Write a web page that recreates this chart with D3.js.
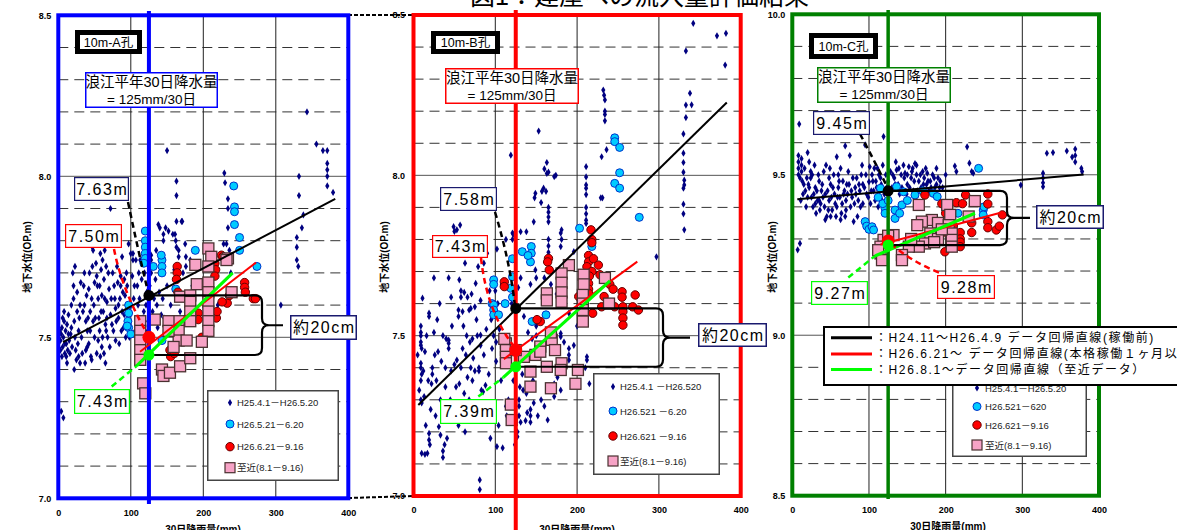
<!DOCTYPE html>
<html><head><meta charset="utf-8">
<script src="https://cdn.jsdelivr.net/npm/d3@7"></script>
<style>body{margin:0;background:#fff;overflow:hidden}svg{display:block}text{font-family:"Liberation Sans","Noto Sans CJK JP",sans-serif}</style>
</head><body><svg id="c" width="1177" height="530"></svg>
<script>
// ---------- data ----------
const xTicks=[0,100,200,300,400];
const yTicksAB=[7.0,7.5,8.0,8.5];
const yTicksC=[8.5,9.0,9.5,10.0];
const normalRain=125;
const titleText="図1：建屋への流入量評価結果";
const yAxisTitle="地下水位(OP.m)";
const xAxisTitle="30日降雨量(mm)";
const panelIds=["10m-A孔","10m-B孔","10m-C孔"];
const normLines=["浪江平年30日降水量","= 125mm/30日"];
const braceText="約20cm";
const legendA=["H25.4.1－H26.5.20","H26.5.21－6.20","H26.6.21－9.16","至近(8.1－9.16)"];
const legendB=["H25.4.1 －H26.520","H26.521 －6.20","H26.621 －9.16","至近(8.1－9.16)"];
const legendC=["H25.4.1－H26.5.20","H26.521－620","H26.621－9.16","至近(8.1－9.16)"];
const lineLegend=["：H24.11～H26.4.9 データ回帰直線(稼働前)","：H26.6.21～ データ回帰直線(本格稼働１ヶ月以降)","：H26.8.1～データ回帰直線（至近データ）"];
const labelsA=["7.63m","7.50m","7.43m"];
const labelsB=["7.58m","7.43m","7.39m"];
const labelsC=["9.45m","9.28m","9.27m"];
// regression values at 125mm: black, red, green
const dotsA=[7.63,7.50,7.445];
const dotsB=[7.585,7.455,7.403];
const dotsC=[9.45,9.294,9.281];
// regression line end points [rain, level]
const regBlackA=[[6.5,7.485],[382,7.93]], regRedA=[[112.7,7.455],[272.7,7.732]], regGreenA=[[108,7.411],[240.5,7.70]], regGreenExtA=[[73.6,7.347],[108,7.411]];
const regBlackB=[[5.9,7.284],[383,8.227]], regRedB=[[110.5,7.427],[273.6,7.731]], regGreenB=[[109.8,7.37],[240.2,7.671]], regGreenExtB=[[79.2,7.31],[109.8,7.37]];
const regBlackC=[[6.5,9.4235],[380,9.501]], regRedC=[[115,9.283],[274,9.383]], regGreenC=[[107.8,9.247],[238.2,9.38]], regGreenExtC=[[73,9.18],[107.8,9.247]];

const navyA=[[3,7.49],[4,7.51],[5,7.53],[6,7.47],[7,7.50],[8,7.55],[9,7.45],[10,7.52],[11,7.48],[12,7.54],[13,7.46],[14,7.51],[15,7.49],[5,7.44],[8,7.58],[12,7.42],[4,7.27],[7,7.25],
[20,7.70],[21,7.62],[22,7.55],[23,7.50],[24,7.46],[25,7.43],[22,7.40],[26,7.58],[28,7.52],[27,7.48],[30,7.60],[30,7.42],[18,7.53],[19,7.47],[17,7.51],
[35,7.66],[36,7.60],[38,7.55],[40,7.52],[42,7.65],[42,7.48],[44,7.58],[45,7.44],[46,7.62],[47,7.78],[47,7.72],[48,7.77],[48,7.55],[50,7.50],[50,7.67],[33,7.45],[37,7.42],[40,7.47],
[53,7.69],[54,7.66],[55,7.62],[56,7.56],[57,7.52],[58,7.76],[59,7.71],[60,7.63],[60,7.47],[61,7.74],[62,7.58],[64,7.77],[65,7.54],[66,7.72],[67,7.61],[68,7.50],[70,7.65],[72,7.90],[72,7.57],[55,7.49],[63,7.45],[66,7.52],
[75,7.70],[76,7.52],[78,7.62],[80,7.55],[82,7.67],[84,7.48],[86,7.69],[86,7.66],[88,7.75],[88,7.58],[90,7.53],[92,7.63],[94,7.70],[96,7.57],[97,7.79],[98,7.50],[100,7.76],[100,7.60],[79,7.59],[83,7.60],[91,7.68],
[103,7.74],[103,7.76],[105,7.66],[107,7.74],[108,7.56],[111,7.70],[112,7.62],[115,7.68],[118,7.58],[120,7.52],[122,7.64],[125,7.48],[128,7.755],[128,7.74],[128,7.70],[110,7.60],
[132,7.62],[135,7.77],[138,7.85],[140,7.84],[142,7.57],[145,7.82],[145,7.80],[148,7.84],[150,8.08],[150,7.66],[152,7.83],[155,7.60],[158,7.82],[160,7.71],[161,7.82],[162,7.80],[163,7.985],[163,7.94],[163,7.86],[163,7.78],[164,7.64],[166,7.77],[166,7.75],[168,7.58],[170,7.86],[171,7.86],[172,7.70],[175,7.79],[176,7.75],[176,7.72],[178,7.62],[182,7.74],[185,7.66],[137,7.53],[146,7.56],
[205,7.58],[210,7.67],[220,7.60],[228,7.79],[229,8.01],[230,7.98],[234,7.93],[234,7.90],[234,7.84],[232,7.79],[236,7.77],[238,7.70],[240,7.64],[226,7.74],
[307,7.60],[329,7.81],[329,7.78],[329,7.74],[331,7.72],[332,8.00],[332,7.94],[336,7.84],[338,7.88],[343,8.20],[356,8.10],[365,8.08],[371,8.08],[371,8.04],[371,8.02],[371,8.00],[371,7.97],[379,7.95],
[2,7.52],[3,7.46],[6,7.56],[9,7.48],[11,7.44],[14,7.57],[16,7.45],[18,7.60],[21,7.66],[23,7.72],[26,7.64],[28,7.44],[29,7.56],[31,7.67],[32,7.50],[34,7.58],[36,7.70],[38,7.46],[39,7.63],[41,7.56],[43,7.70],[44,7.52],[46,7.43],[49,7.60],[51,7.56],[52,7.73],[53,7.45],[57,7.66],[58,7.44],[59,7.58],[61,7.50],[63,7.68],[64,7.62],[65,7.42],[67,7.56],[69,7.70],[71,7.47],[73,7.62],[74,7.54],[77,7.66],[79,7.49],[81,7.72],[83,7.56],[85,7.62],[87,7.52],[89,7.64],[91,7.57],[93,7.50],[95,7.66],[99,7.55],[102,7.69],[104,7.62],[106,7.52],[109,7.66],[113,7.74],[116,7.56],[119,7.70],[121,7.60],[124,7.55],[126,7.66],[130,7.58],[134,7.68],[136,7.60],[139,7.64],[141,7.70],[144,7.62],[147,7.52]];
const cyanA=[[120,7.83],[120,7.80],[120,7.78],[120,7.76],[120,7.745],[118,7.73],[131,7.72],[143,7.74],[143,7.72],[143,7.70],[142,7.755],[162,7.65],[189,7.77],[242,7.97],[243,7.905],[243,7.89],[243,7.85],[250,7.81],[250,7.77],[274,7.72],[97,7.60],[97,7.575],[96,7.55],[97,7.53],[95,7.535],[100,7.51],[143,7.49]];
const redA=[[164,7.72],[164,7.70],[163,7.68],[216,7.73],[217,7.71],[225,7.755],[227,7.75],[216,7.69],[257,7.67],[257,7.655],[258,7.64],[233,7.606],[226,7.61],[269,7.62],[272,7.62],[193,7.575],[193,7.555],[218,7.56],[219,7.58],[198,7.50],[154,7.46],[155,7.44],[160,7.45],[236,7.63],[165,7.64]];
const pinkA=[[207,7.776],[211,7.75],[234,7.745],[189,7.725],[207,7.72],[232,7.74],[191,7.665],[207,7.67],[239,7.64],[168,7.626],[182,7.63],[207,7.64],[207,7.61],[207,7.58],[207,7.55],[207,7.52],[182,7.61],[182,7.58],[182,7.55],[166,7.55],[166,7.52],[166,7.49],[177,7.49],[152,7.55],[152,7.52],[159,7.47],[133,7.555],[113,7.55],[113,7.52],[113,7.49],[113,7.46],[113,7.43],[117,7.357],[120,7.326],[143,7.40],[145,7.38],[154,7.39],[168,7.41],[182,7.435],[198,7.486]];

const navyB=[[342,8.474],[371,8.435],[382,8.443],[333,8.388],[381,8.344],[338,8.256],[333,8.219],[340,8.22],[333,8.18],[330,8.129],[330,8.069],[330,8.04],[330,8.01],[331,7.985],[331,7.97],[330,7.96],[330,7.91],[330,7.88],[331,7.83],[297,7.746],
[232,8.266],[233,8.25],[234,8.235],[234,8.20],[234,8.19],[234,8.17],[230,8.058],[236,8.08],[231,7.93],[211,8.027],[211,7.995],[211,7.97],[211,7.96],[211,7.94],[211,7.90],[211,7.88],[211,7.86],[211,7.85],[229,7.93],
[153,8.138],[119,8.063],[163,8.04],[160,8.02],[165,8.01],[172,7.996],[163,8.006],[174,8.0],[159,7.96],[149,7.944],[148,7.93],[157,7.95],[162,7.95],[156,7.915],[165,7.90],[165,7.885],[165,7.87],[165,7.855],[147,7.855],[138,7.824],[131,7.824],[122,7.816],[181,7.83],[181,7.80],[180,7.82],[180,7.778],[165,7.80],[165,7.78],[165,7.76],[163.6,7.736],[149,7.705],[196,7.762],[121,7.82],[121,7.80],
[49,7.84],[50,7.825],[53,7.83],[57,7.845],[63,7.726],[79,7.715],[90,7.757],[102,7.77],[113,7.80],[43,7.68],[25,7.68],[11,7.617],[56,7.674],[58,7.64],[58,7.62],[62,7.635],[66,7.62],[76,7.663],[82,7.61],[86,7.726],[100,7.64],[103,7.60],[120,7.60],[128,7.65],[131,7.68],[143,7.66],[150,7.68],[160,7.68],[168,7.66],[175,7.63],
[9,7.53],[9,7.51],[9,7.50],[9,7.48],[9,7.47],[10,7.46],[9,7.414],[9,7.40],[10,7.38],[9,7.36],[12,7.39],[9,7.30],[10,7.29],[19,7.57],[19,7.56],[25,7.51],[23,7.40],[23,7.38],[22,7.35],[13,7.31],[19,7.195],[19,7.175],[17,7.133],[20,7.16],[10,7.133],[14,7.13],[31,7.216],[33,7.19],[36,7.14],[36,7.12],[38,7.16],[41,7.18],[43,7.486],[43,7.476],[43,7.46],[40,7.49],[39,7.40],[39,7.34],[53,7.424],[50,7.41],[46,7.39],[55,7.56],[55,7.58],[60,7.575],[68,7.58],[70,7.585],[75,7.59],[65,7.50],[72,7.49],[78,7.50],[82,7.502],[82,7.47],[80,7.40],[80,7.39],[75,7.39],[70,7.40],[72,7.36],[83,7.33],[85,7.325],[88,7.345],[81,7.05],[81,7.02],[94,7.18],[102,7.154],[109,7.15],[96,7.46],[98,7.50],[101,7.48],[101,7.42],[60,7.46],[56,7.35],[62,7.32],[68,7.30],[30,7.45],[33,7.30],[27,7.25],[15,7.22],[50,7.24],[55,7.22],[63,7.20],
[129,7.30],[129,7.28],[129,7.25],[143,7.27],[143,7.25],[143,7.23],[131,7.23],[137,7.235],[139,7.26],[147,7.29],[116,7.30],[113,7.28],[114,7.25],[127,7.20],[127,7.185],[164,7.237],[130,7.34],[134,7.33],[138,7.32],[172,7.35],[172,7.33],[172,7.31],[176,7.37],[180,7.33],[165,7.33],[190,7.44],[190,7.424],[196,7.47],[212,7.434],[212,7.424],[180,7.507],[180,7.497],[184,7.48],[190,7.46],[140,7.51],[145,7.49],[150,7.50],[135,7.56],[150,7.53],[200,7.53],[210,7.40],[215,7.35],[223,7.31],[225,7.30],[205,7.57],[190,7.57],
[5,7.44],[7,7.33],[14,7.45],[16,7.50],[18,7.36],[21,7.27],[26,7.44],[28,7.36],[29,7.55],[34,7.42],[36,7.50],[45,7.30],[47,7.53],[52,7.34],[58,7.40],[61,7.53],[64,7.44],[66,7.37],[69,7.48],[73,7.43],[77,7.55],[86,7.44],[89,7.52],[92,7.38],[95,7.55],[105,7.52],[107,7.36],[118,7.41],[108,7.66],[93,7.64],[71,7.63],[46,7.62],[32,7.60],[122,7.36],[133,7.38],[146,7.36],[156,7.30],[160,7.28],[152,7.25],[124,7.16],[104,7.22]];
const cyanB=[[246,8.117],[246,8.105],[252,8.087],[252,8.008],[246,7.975],[252,7.96],[276,7.869],[203,7.835],[218,7.778],[144,7.778],[133,7.762],[144,7.757],[121,7.74],[143,7.73],[140,7.75],[121,7.684],[98,7.674],[98,7.66],[119,7.648],[121,7.62],[96,7.60],[98,7.596],[98,7.58],[98,7.565],[104,7.565],[162,7.565],[145,7.544],[112,7.60]];
const redB=[[217,7.83],[218,7.80],[218,7.79],[165,7.741],[164,7.73],[166,7.705],[214,7.75],[214,7.73],[220,7.74],[226,7.72],[212,7.715],[218,7.70],[228,7.69],[215,7.686],[214,7.663],[214,7.645],[214,7.632],[233,7.622],[202,7.622],[240,7.66],[244,7.645],[255,7.637],[255,7.62],[271,7.627],[230,7.59],[246,7.59],[256,7.59],[268,7.59],[256,7.575],[256,7.555],[256,7.533],[275,7.58],[155,7.544],[151,7.55],[111,7.668],[111,7.653],[219,7.57]];
const pinkB=[[190,7.72],[181,7.694],[181,7.665],[181,7.635],[181,7.606],[163,7.632],[163,7.61],[208,7.69],[208,7.66],[234,7.68],[207,7.627],[207,7.60],[207,7.58],[239,7.60],[207,7.544],[169,7.487],[173,7.455],[168,7.51],[155,7.466],[149,7.44],[135,7.434],[113,7.476],[113,7.455],[113,7.434],[113,7.414],[111,7.49],[163,7.403],[181,7.414],[180,7.393],[201,7.393],[143,7.388],[143,7.341],[168,7.336],[198,7.35],[119,7.285],[120,7.237],[155,7.45],[125,7.455]];

const navyC=[[9,9.658],[119,9.619],[69,9.59],[20,9.569],[8,9.56],[8,9.54],[8,9.52],[8,9.50],[10,9.49],[12,9.55],[12,9.53],[12,9.51],[15,9.47],[17,9.45],[19,9.49],[22,9.54],[24,9.51],[24,9.49],[22,9.46],[25,9.43],[28,9.44],[30,9.41],[33,9.42],[36,9.39],[38,9.45],[40,9.43],[42,9.40],[44,9.53],[45,9.37],[46,9.45],[48,9.42],[50,9.47],[52,9.39],[55,9.44],[56,9.41],[58,9.556],[60,9.46],[62,9.43],[64,9.38],[66,9.48],[68,9.45],[70,9.42],[72,9.44],[74,9.47],[75,9.56],[76,9.40],[78,9.43],[80,9.354],[82,9.46],[84,9.49],[86,9.42],[88,9.45],[90,9.50],[92,9.47],[95,9.593],[97,9.44],[100,9.478],[101,9.525],[103,9.45],[105,9.48],[108,9.42],[110,9.46],[112,9.40],[113,9.50],[116,9.47],[120,9.44],[125,9.48],[128,9.51],[130,9.46],[133,9.49],[136,9.515],[138,9.47],[140,9.44],[142,9.50],[145,9.53],[147,9.505],[150,9.47],[152,9.525],[155,9.49],[158,9.45],[160,9.535],[162,9.53],[162,9.50],[165,9.48],[168,9.46],[170,9.51],[172,9.49],[175,9.47],[178,9.45],[180,9.48],[183,9.50],[186,9.46],[190,9.49],[193,9.48],[196,9.46],[200,9.50],[212,9.527],[214,9.51],[228,9.587],[231,9.536],[234,9.51],[236,9.505],[298,9.468],[327,9.505],[327,9.49],[327,9.475],[327,9.463],[332,9.567],[340,9.569],[358,9.574],[369,9.58],[369,9.56],[369,9.54],[365,9.555],[377,9.52],[378,9.51],[7,9.266],[10,9.286],
[14,9.44],[20,9.43],[27,9.40],[31,9.38],[35,9.42],[43,9.36],[50,9.37],[58,9.40],[63,9.36],[70,9.39],[85,9.37],[92,9.41],[107,9.52],[118,9.53],[135,9.54],[150,9.50],[157,9.52],[176,9.505],[188,9.52],[115,9.49],[122,9.50],[60,9.50],[48,9.49],[35,9.48],[30,9.46],
[11,9.42],[13,9.48],[16,9.52],[18,9.40],[21,9.47],[26,9.50],[29,9.53],[32,9.45],[34,9.50],[37,9.41],[39,9.47],[41,9.51],[43,9.44],[47,9.39],[49,9.52],[51,9.43],[53,9.46],[54,9.50],[57,9.37],[59,9.43],[61,9.48],[63,9.52],[65,9.41],[67,9.44],[69,9.37],[71,9.47],[73,9.51],[77,9.45],[79,9.49],[81,9.41],[83,9.44],[87,9.47],[89,9.40],[91,9.53],[94,9.46],[96,9.50],[99,9.43],[102,9.41],[104,9.50],[106,9.45],[109,9.48],[111,9.52],[114,9.45],[117,9.42],[123,9.46],[127,9.44],[131,9.50],[134,9.47],[139,9.52],[143,9.46],[146,9.49],[149,9.44],[153,9.46],[156,9.51],[159,9.48],[163,9.45],[167,9.50],[171,9.47],[174,9.52],[177,9.48],[181,9.46],[185,9.49],[188,9.47],[192,9.46]];
const cyanC=[[115,9.458],[121,9.395],[121,9.38],[118,9.41],[125,9.42],[134,9.39],[134,9.364],[143,9.406],[140,9.38],[145,9.447],[160,9.437],[184,9.442],[189,9.432],[95,9.354],[97,9.34],[100,9.33],[104,9.338],[106,9.328],[243,9.52],[249,9.39],[249,9.375],[250,9.40],[216,9.38],[136,9.463],[150,9.42],[170,9.45],[112,9.43]];
const redC=[[226,9.437],[255,9.44],[214,9.413],[222,9.41],[255,9.409],[255,9.354],[255,9.335],[266,9.328],[270,9.34],[274,9.375],[234,9.35],[234,9.32],[219,9.32],[219,9.30],[219,9.29],[219,9.276],[199,9.26],[193,9.312],[173,9.437],[195,9.41],[200,9.38],[205,9.35],[210,9.34]];
const pinkC=[[165,9.406],[202,9.406],[238,9.418],[206,9.375],[182,9.359],[169,9.354],[163,9.343],[190,9.35],[204,9.343],[208,9.317],[208,9.297],[208,9.276],[180,9.317],[190,9.30],[173,9.286],[165,9.276],[152,9.276],[143,9.25],[132,9.312],[119,9.297],[115,9.276],[115,9.255],[112,9.265],[230,9.37],[143,9.234],[117,9.234],[125,9.31],[195,9.33],[155,9.30],[185,9.29]];

// ---------- drawing ----------
const svg=d3.select('#c');
const CJK='"Noto Sans CJK JP",sans-serif';
const NAVY='#000080', CYAN='#00ccff', RED='#ff0000', PINK='#f7a3c6', LIME='#00ff00';

svg.append('text').attr('x',470).attr('y',5).attr('font-size',25).attr('font-family',CJK).text(titleText);

// dashed connectors between A and B frames
[[348,15,413,15],[348,498,413,496]].forEach(d=>svg.append('line').attr('x1',d[0]).attr('y1',d[1]).attr('x2',d[2]).attr('y2',d[3]).attr('stroke','#000').attr('stroke-width',2).attr('stroke-dasharray','4,2'));

const panels=[
 {x0:58.3,x1:348.3,yT:15.3,yB:498.3,dom:[7.0,8.5],yt:yTicksAB,col:'#0000ff',vTop:11,vBot:504,vw:4,ytPad:7,
  navy:navyA,cyan:cyanA,red:redA,pink:pinkA,reg:[regBlackA,regRedA,regGreenA,regGreenExtA],dots:dotsA,labels:labelsA,legend:legendA,id:panelIds[0],
  L:{id:[75,30,142,54],norm:[85,72,218,108],bl:[74,177,129,201],rl:[65,224,122,248],gl:[74,389,130,414],
     blLead:[[128,202],[138,250]],rlLead:[[114,249],[122,290]],
     brace:{xb:262,tip:283},bLbl:[290,315,357,340],leg:[207,390,339,481],legRows:[402.7,424,446.7,467.7],legMx:230,legTx:237,
     yTitle:[27,257],xTitle:[203,533]}},
 {x0:413.5,x1:740.7,yT:15,yB:496,dom:[7.0,8.5],yt:yTicksAB,col:'#ff0000',vTop:10,vBot:530,vw:4,ytPad:8.5,
  navy:navyB,cyan:cyanB,red:redB,pink:pinkB,reg:[regBlackB,regRedB,regGreenB,regGreenExtB],dots:dotsB,labels:labelsB,legend:legendB,id:panelIds[1],
  L:{id:[431,31,500,54],norm:[445,68,579,104],bl:[440,187,497,211],rl:[432,235,488,258],gl:[440,399,497,424],
     blLead:[[495,212],[510,262]],rlLead:[[481,258],[487,312]],
     brace:{xb:663,tip:690},bLbl:[698,323,767,347],leg:[593,373,720,475],legRows:[386.7,411,436,461],legMx:613,legTx:620,
     yTitle:[384,257],xTitle:[577,533]}},
 {x0:792.3,x1:1099,yT:14.3,yB:495.7,dom:[8.5,10.0],yt:yTicksC,col:'#008000',vTop:10,vBot:499,vw:3.5,ytPad:7,
  navy:navyC,cyan:cyanC,red:redC,pink:pinkC,reg:[regBlackC,regRedC,regGreenC,regGreenExtC],dots:dotsC,labels:labelsC,legend:legendC,id:panelIds[2],
  L:{id:[809,33,878,59],norm:[817,67,951,103],bl:[813,111,870,135],rl:[937,275,995,299],gl:[811,281,868,305],
     blLead:[[860,134],[874,160]],rlLead:[[940,273],[912,262]],
     brace:{xb:1007,tip:1030},bLbl:[1036,205,1104,229],leg:[952,376,1087,457],legRows:[388,406.5,425,445],legMx:977,legTx:985,
     yTitle:[772,257],xTitle:[948,530]}}
];

function boxRect(g,b,stroke,sw){
  g.append('rect').attr('x',b[0]+sw/2).attr('y',b[1]+sw/2).attr('width',b[2]-b[0]-sw).attr('height',b[3]-b[1]-sw)
   .attr('fill','#fff').attr('stroke',stroke).attr('stroke-width',sw);
}
function boxText(g,b,txt,size,ls,fam,dy){
  g.append('text').attr('x',(b[0]+b[2])/2+ls/2).attr('y',(b[1]+b[3])/2+(dy||0)).attr('text-anchor','middle')
   .attr('dominant-baseline','central').attr('font-size',size).attr('letter-spacing',ls).attr('font-family',fam||null).text(txt);
}

panels.forEach(p=>{
  const x=d3.scaleLinear().domain([0,400]).range([p.x0,p.x1]);
  const y=d3.scaleLinear().domain(p.dom).range([p.yB,p.yT]);
  const g=svg.append('g');
  const L=p.L;
  // horizontal grid
  d3.range(1,15).forEach(i=>{
    const v=p.dom[0]+i*0.1, major=(i%5===0);
    g.append('line').attr('x1',p.x0).attr('x2',p.x1).attr('y1',y(v)).attr('y2',y(v))
     .attr('stroke',major?'#555':'#333').attr('stroke-width',1).attr('stroke-dasharray',major?null:'10,6');
  });
  // vertical grid
  [100,200,300].forEach(v=>g.append('line').attr('x1',x(v)).attr('x2',x(v)).attr('y1',p.yT).attr('y2',p.yB).attr('stroke','#222').attr('stroke-width',1));
  // axes
  const ax=g.append('g').attr('transform',`translate(0,${p.yB})`).call(d3.axisBottom(x).tickValues(xTicks).tickSize(0).tickPadding(11));
  const ay=g.append('g').attr('transform',`translate(${p.x0},0)`).call(d3.axisLeft(y).tickValues(p.yt).tickSize(0).tickPadding(p.ytPad).tickFormat(d3.format('.1f')));
  [ax,ay].forEach(a=>{a.select('.domain').remove();a.selectAll('text').attr('font-size',9).attr('font-weight','bold').attr('font-family','"Liberation Sans",Arial,sans-serif').attr('fill','#000');});
  // axis titles
  g.append('text').attr('transform',`translate(${L.yTitle[0]},${L.yTitle[1]}) rotate(-90)`).attr('text-anchor','middle').attr('dominant-baseline','central')
   .attr('font-size',10).attr('font-weight','bold').text(yAxisTitle);
  g.append('text').attr('x',L.xTitle[0]).attr('y',L.xTitle[1]).attr('text-anchor','middle').attr('font-size',10).attr('font-weight','bold').text(xAxisTitle);

  // scatter
  const dia=d3.symbol(d3.symbolDiamond,15)();
  g.append('g').selectAll('path').data(p.navy).join('path').attr('d',dia).attr('transform',d=>`translate(${x(d[0])},${y(d[1])})`).attr('fill',NAVY);
  g.append('g').selectAll('circle').data(p.cyan).join('circle').attr('cx',d=>x(d[0])).attr('cy',d=>y(d[1])).attr('r',4).attr('fill',CYAN).attr('stroke','#0033cc').attr('stroke-width',1);
  g.append('g').selectAll('circle').data(p.red).join('circle').attr('cx',d=>x(d[0])).attr('cy',d=>y(d[1])).attr('r',4.2).attr('fill',RED).attr('stroke','#600').attr('stroke-width',1);
  g.append('g').selectAll('rect').data(p.pink).join('rect').attr('x',d=>x(d[0])-5.5).attr('y',d=>y(d[1])-5.5).attr('width',11).attr('height',11).attr('fill',PINK).attr('stroke','#4a3030').attr('stroke-width',1.3);

  // vertical normal-rain line
  g.append('line').attr('x1',x(normalRain)).attr('x2',x(normalRain)).attr('y1',p.vTop).attr('y2',p.vBot).attr('stroke',p.col).attr('stroke-width',p.vw);

  // regression lines
  const ln=d3.line().x(d=>x(d[0])).y(d=>y(d[1]));
  g.append('path').attr('d',ln(p.reg[0])).attr('stroke','#000').attr('stroke-width',2).attr('fill','none');
  g.append('path').attr('d',ln(p.reg[1])).attr('stroke',RED).attr('stroke-width',2).attr('fill','none');
  g.append('path').attr('d',ln(p.reg[2])).attr('stroke',LIME).attr('stroke-width',3.2).attr('fill','none');
  g.append('path').attr('d',ln(p.reg[3])).attr('stroke',LIME).attr('stroke-width',2.5).attr('fill','none').attr('stroke-dasharray','6,4');

  const cx=x(normalRain), yb=y(p.dots[0]), yr=y(p.dots[1]), yg=y(p.dots[2]);
  // leaders
  g.append('path').attr('d',`M${L.blLead[0][0]},${L.blLead[0][1]} Q${L.blLead[1][0]},${L.blLead[1][1]} ${cx-1},${yb-4}`)
   .attr('stroke','#000').attr('stroke-width',2.5).attr('fill','none').attr('stroke-dasharray','6,4');
  if(p===panels[2]){
    g.append('path').attr('d',`M${cx+3},${yr+3} Q${L.rlLead[1][0]},${L.rlLead[1][1]} ${L.rlLead[0][0]},${L.rlLead[0][1]}`)
     .attr('stroke',RED).attr('stroke-width',2.5).attr('fill','none').attr('stroke-dasharray','6,4');
  } else {
    g.append('path').attr('d',`M${L.rlLead[0][0]},${L.rlLead[0][1]} Q${L.rlLead[1][0]},${L.rlLead[1][1]} ${cx-2},${yr-4}`)
     .attr('stroke',RED).attr('stroke-width',2.5).attr('fill','none').attr('stroke-dasharray','6,4');
  }

  // brace
  const xb=L.brace.xb, r=7, ym=(yb+yg)/2;
  g.append('path').attr('d',`M${cx},${yb} H${xb-r} Q${xb},${yb} ${xb},${yb+r} V${ym-r} Q${xb},${ym} ${xb+r},${ym} L${L.brace.tip},${ym} M${xb+r},${ym} Q${xb},${ym} ${xb},${ym+r} V${yg-r} Q${xb},${yg} ${xb-r},${yg} H${cx}`)
   .attr('stroke','#000').attr('stroke-width',2.2).attr('fill','none');

  // dots
  g.append('circle').attr('cx',cx).attr('cy',yb).attr('r',5.5).attr('fill','#000');
  g.append('circle').attr('cx',cx).attr('cy',yr).attr('r',6.5).attr('fill',RED);
  g.append('circle').attr('cx',cx).attr('cy',yg).attr('r',5.5).attr('fill',LIME);

  // frame
  g.append('rect').attr('x',p.x0).attr('y',p.yT).attr('width',p.x1-p.x0).attr('height',p.yB-p.yT).attr('fill','none').attr('stroke',p.col).attr('stroke-width',4);

  // boxes
  boxRect(g,L.id,'#000',5); boxText(g,L.id,p.id,12.5,0,null,0.5);
  boxRect(g,L.norm,p.col,1.5);
  boxText(g,L.norm,normLines[0],14.5,0,CJK,-8.5);
  boxText(g,L.norm,normLines[1],13.5,0,CJK,9);
  boxRect(g,L.bl,'#1a1a6e',1.2); boxText(g,L.bl,p.labels[0],16,1.5);
  boxRect(g,L.rl,RED,1.2); boxText(g,L.rl,p.labels[1],16,1.5);
  boxRect(g,L.gl,LIME,1.2); boxText(g,L.gl,p.labels[2],16,1.5);
  boxRect(g,L.bLbl,'#1a1a6e',1.5); boxText(g,L.bLbl,braceText,16,1.5);

  // scatter legend
  boxRect(g,L.leg,'#444',1.5);
  const rows=L.legRows;
  g.append('path').attr('d',dia).attr('transform',`translate(${L.legMx},${rows[0]})`).attr('fill',NAVY);
  g.append('circle').attr('cx',L.legMx).attr('cy',rows[1]).attr('r',4).attr('fill',CYAN).attr('stroke','#0033cc');
  g.append('circle').attr('cx',L.legMx).attr('cy',rows[2]).attr('r',4.2).attr('fill',RED).attr('stroke','#600');
  g.append('rect').attr('x',L.legMx-5).attr('y',rows[3]-5).attr('width',10).attr('height',10).attr('fill',PINK).attr('stroke','#4a3030').attr('stroke-width',1.2);
  p.legend.forEach((t,i)=>g.append('text').attr('x',L.legTx).attr('y',rows[i]).attr('dominant-baseline','central').attr('font-size',9.5).attr('fill','#222').text(t));
});

// big line legend (panel C)
const lg=svg.append('g');
lg.append('rect').attr('x',824).attr('y',327).attr('width',360).attr('height',58).attr('fill','#fff').attr('stroke','#000').attr('stroke-width',2);
const lgRows=[337.7,354,369.5], lgCols=['#000',RED,LIME];
lineLegend.forEach((t,i)=>{
  lg.append('line').attr('x1',831).attr('x2',872).attr('y1',lgRows[i]).attr('y2',lgRows[i]).attr('stroke',lgCols[i]).attr('stroke-width',3);
  lg.append('text').attr('x',875).attr('y',lgRows[i]).attr('dominant-baseline','central').attr('font-size',12).attr('letter-spacing',1.6).attr('font-family',CJK).text(t);
});
</script></body></html>
